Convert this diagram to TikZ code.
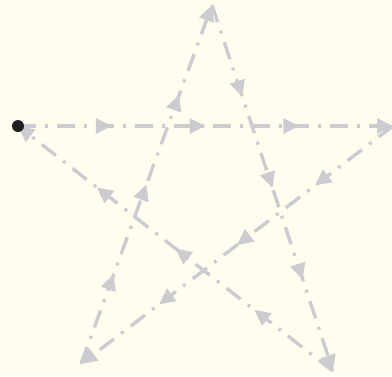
\documentclass[tikz,border=0pt]{standalone}
\usetikzlibrary{arrows.meta,decorations.markings}
\definecolor{bgc}{RGB}{255,253,238}
\definecolor{linec}{RGB}{204,204,208}
\tikzset{
  starhead/.style={-{Triangle[length=16pt,width=15pt]}},
  starline/.style={draw=linec, line width=3.4pt,
    dash pattern=on 18pt off 9pt on 3pt off 9pt,
    -{Triangle[length=16pt,width=15pt]},
    postaction={decorate},
    decoration={markings,
      mark=at position 0.25 with {\arrow{Triangle[length=16pt,width=15pt]}},
      mark=at position 0.5 with {\arrow{Triangle[length=16pt,width=15pt]}},
      mark=at position 0.75 with {\arrow{Triangle[length=16pt,width=15pt]}}}},
  startdot/.style={circle, fill=black!88, inner sep=0pt, minimum size=12pt}
}
\begin{document}
\begin{tikzpicture}[x=1pt,y=-1pt]
\fill[bgc] (0,0) rectangle (392,376);
\useasboundingbox (0,0) rectangle (392,376);
\coordinate (L) at (18,126);
\coordinate (R) at (393,126);
\coordinate (T) at (212,5);
\coordinate (BL) at (81,364);
\coordinate (BR) at (333,371);
\draw[starline] (L) -- (R);
\draw[starline] (R) -- (BL);
\draw[starline] (BL) -- (T);
\draw[starline] (T) -- (BR);
\draw[starline] (BR) -- (L);
\node[startdot] (S) at (L) {};
\end{tikzpicture}
\end{document}
